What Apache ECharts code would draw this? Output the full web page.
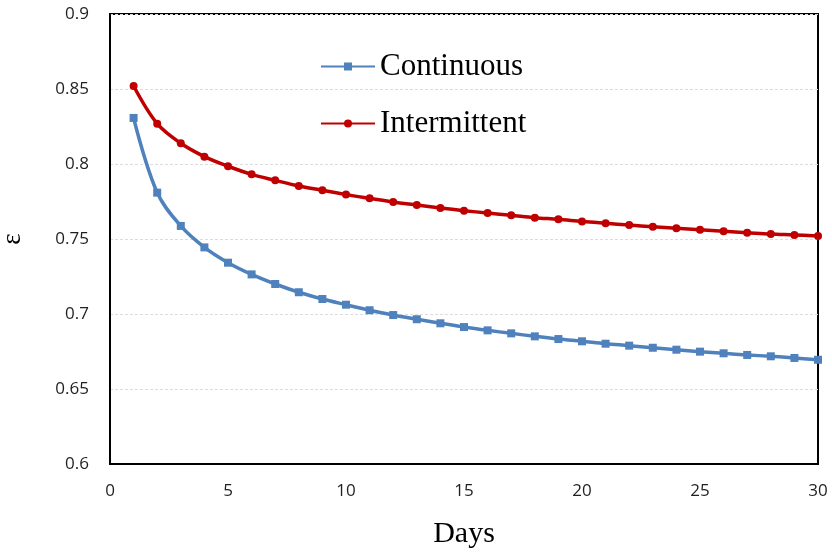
<!DOCTYPE html>
<html>
<head>
<meta charset="utf-8">
<script src="https://cdn.jsdelivr.net/npm/echarts@6/dist/echarts.min.js"></script>
<style>
  html, body { margin: 0; padding: 0; background: #fff; }
  #chart { width: 832px; height: 556px; }
</style>
</head>
<body>
<div id="chart"></div>
<script>
// Day index on the x axis
const days = [1, 2, 3, 4, 5, 6, 7, 8, 9, 10, 11, 12, 13, 14, 15,
              16, 17, 18, 19, 20, 21, 22, 23, 24, 25, 26, 27, 28, 29, 30];

// ε per day, continuous operation
const continuous = [0.8307, 0.7809, 0.7587, 0.7444, 0.7342, 0.7264, 0.7200, 0.7145, 0.7100, 0.7062,
                    0.7025, 0.6993, 0.6965, 0.6938, 0.6913, 0.6891, 0.6871, 0.6851, 0.6833, 0.6818,
                    0.6802, 0.6789, 0.6775, 0.6762, 0.6749, 0.6738, 0.6727, 0.6718, 0.6707, 0.6695];

// ε per day, intermittent operation
const intermittent = [0.8520, 0.8269, 0.8138, 0.8049, 0.7985, 0.7931, 0.7891, 0.7853, 0.7825, 0.7796,
                      0.7771, 0.7747, 0.7727, 0.7707, 0.7689, 0.7673, 0.7658, 0.7642, 0.7631, 0.7617,
                      0.7605, 0.7593, 0.7582, 0.7571, 0.7562, 0.7551, 0.7542, 0.7533, 0.7527, 0.7520];

const seriesNames = ['Continuous', 'Intermittent'];
const xTicks = [0, 5, 10, 15, 20, 25, 30];
const yTicks = [0.6, 0.65, 0.7, 0.75, 0.8, 0.85, 0.9];

const pairs = (ys) => days.map((d, i) => [d, ys[i]]);

const chart = echarts.init(document.getElementById('chart'), null, { renderer: 'canvas' });

const tickFont = { fontFamily: '"Open Sans", sans-serif', fontSize: 17, color: '#1f1f1f' };
const serif = '"Liberation Serif", "Times New Roman", serif';

chart.setOption({
  animation: false,
  backgroundColor: '#ffffff',
  grid: {
    left: 110, right: 14, top: 14, bottom: 92,
    outerBoundsMode: 'none',
    containLabel: false,
    show: true, borderColor: '#000', borderWidth: 2
  },
  legend: {
    orient: 'vertical',
    left: 320,
    top: 51,
    padding: 0,
    itemWidth: 54,
    itemHeight: 10,
    itemGap: 26,
    data: seriesNames,
    textStyle: { fontFamily: serif, fontSize: 31, color: '#000', lineHeight: 31 }
  },
  xAxis: {
    type: 'value',
    min: xTicks[0],
    max: xTicks[xTicks.length - 1],
    interval: 5,
    name: 'Days',
    nameLocation: 'middle',
    nameGap: 55,
    nameTextStyle: { fontFamily: serif, fontSize: 30, color: '#000' },
    axisLine: { show: true, lineStyle: { color: '#000', width: 2 } },
    axisTick: { show: false },
    splitLine: { show: false },
    axisLabel: Object.assign({ margin: 19 }, tickFont)
  },
  yAxis: {
    type: 'value',
    min: yTicks[0],
    max: yTicks[yTicks.length - 1],
    interval: 0.05,
    name: 'ε',
    nameLocation: 'middle',
    nameRotate: 90,
    nameGap: 84,
    nameTextStyle: { fontFamily: serif, fontSize: 27, color: '#000' },
    axisLine: { show: true, lineStyle: { color: '#000', width: 2 } },
    axisTick: { show: false },
    splitLine: { show: true, lineStyle: { color: '#dcdcdc', width: 1, type: [3, 2] } },
    axisLabel: Object.assign({ margin: 21, formatter: (v) => String(parseFloat(v.toFixed(2))) }, tickFont)
  },
  series: [
    {
      name: seriesNames[0],
      type: 'line',
      data: pairs(continuous),
      smooth: 0.35,
      symbol: 'rect',
      symbolSize: 8,
      lineStyle: { color: '#4F81BD', width: 3.5 },
      itemStyle: { color: '#4F81BD' }
    },
    {
      name: seriesNames[1],
      type: 'line',
      data: pairs(intermittent),
      smooth: 0.35,
      symbol: 'circle',
      symbolSize: 8,
      lineStyle: { color: '#C00000', width: 3.5 },
      itemStyle: { color: '#C00000' }
    }
  ]
});
</script>
</body>
</html>
